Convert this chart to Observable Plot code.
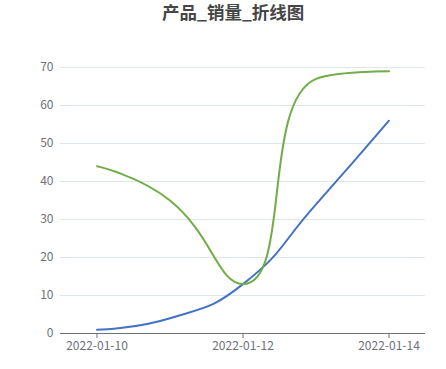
<!DOCTYPE html>
<html>
<head>
<meta charset="utf-8">
<script src="https://cdn.jsdelivr.net/npm/d3@7"></script>
<script src="https://cdn.jsdelivr.net/npm/@observablehq/plot@0.6"></script>
<style>
  html, body { margin: 0; padding: 0; background: #fff; }
  #wrap { width: 446px; height: 369px; position: relative; font-family: "Noto Sans CJK SC", "Noto Sans", sans-serif; }
  #title { height: 30px; line-height: 24px; box-sizing: border-box; text-align: left; padding-left: 162px;
           font-size: 17.5px; font-weight: bold; color: #464646; }
  svg { display: block; }
</style>
</head>
<body>
<div id="wrap">
  <div id="title">产品_销量_折线图</div>
  <div id="chart"></div>
</div>
<script>
const dates = ["2022-01-10", "2022-01-11", "2022-01-12", "2022-01-13", "2022-01-14"];
const seriesBlue = [1, 4, 13, 34, 56];
const seriesGreen = [44, 35, 13, 67, 69];
const yTicks = [0, 10, 20, 30, 40, 50, 60, 70];
const xTickLabels = ["2022-01-10", "2022-01-12", "2022-01-14"];

const parse = d3.utcParse("%Y-%m-%d");
const blueData = dates.map((d, i) => ({date: parse(d), value: seriesBlue[i]}));
const greenData = dates.map((d, i) => ({date: parse(d), value: seriesGreen[i]}));
const half = 12 * 3600 * 1000;
const xDomain = [new Date(parse(dates[0]).getTime() - half), new Date(parse(dates[dates.length - 1]).getTime() + half)];

// Smooth curve in the style of a "smooth: 0.5" line (bezier with clamped control points)
function smoothCurve(context) {
  const smooth = 0.5;
  let pts = [];
  return {
    lineStart() { pts = []; },
    lineEnd() {
      const n = pts.length;
      if (!n) return;
      let prevX, prevY, cpx0, cpy0, cpx1, cpy1, nextCpx0, nextCpy0;
      for (let i = 0; i < n; i++) {
        const [x, y] = pts[i];
        if (i === 0) {
          context.moveTo(x, y);
          cpx0 = x; cpy0 = y;
        } else {
          if (i === n - 1) {
            cpx1 = x; cpy1 = y;
          } else {
            const [nextX, nextY] = pts[i + 1];
            let vx = nextX - prevX, vy = nextY - prevY;
            const dx0 = x - prevX, dx1 = nextX - x, dy0 = y - prevY, dy1 = nextY - y;
            const lenPrev = Math.hypot(dx0, dy0), lenNext = Math.hypot(dx1, dy1);
            const ratio = lenNext / (lenNext + lenPrev);
            nextCpx0 = x + vx * smooth * ratio;
            nextCpy0 = y + vy * smooth * ratio;
            nextCpx0 = Math.min(nextCpx0, Math.max(nextX, x));
            nextCpy0 = Math.min(nextCpy0, Math.max(nextY, y));
            nextCpx0 = Math.max(nextCpx0, Math.min(nextX, x));
            nextCpy0 = Math.max(nextCpy0, Math.min(nextY, y));
            vx = nextCpx0 - x; vy = nextCpy0 - y;
            cpx1 = x - vx * lenPrev / lenNext;
            cpy1 = y - vy * lenPrev / lenNext;
            cpx1 = Math.min(cpx1, Math.max(prevX, x));
            cpy1 = Math.min(cpy1, Math.max(prevY, y));
            cpx1 = Math.max(cpx1, Math.min(prevX, x));
            cpy1 = Math.max(cpy1, Math.min(prevY, y));
            vx = x - cpx1; vy = y - cpy1;
            nextCpx0 = x + vx * lenNext / lenPrev;
            nextCpy0 = y + vy * lenNext / lenPrev;
          }
          context.bezierCurveTo(cpx0, cpy0, cpx1, cpy1, x, y);
          cpx0 = nextCpx0; cpy0 = nextCpy0;
        }
        prevX = x; prevY = y;
      }
    },
    point(x, y) { pts.push([+x, +y]); },
    areaStart() {}, areaEnd() {}
  };
}

const chart = Plot.plot({
  width: 446,
  height: 339,
  marginTop: 37,
  marginBottom: 36,
  marginLeft: 60,
  marginRight: 21,
  style: {fontFamily: "'Noto Sans CJK SC', 'Noto Sans', sans-serif", fontSize: "12px", color: "#6E7079", background: "#fff"},
  x: {type: "utc", domain: xDomain},
  y: {domain: [0, 70]},
  marks: [
    Plot.ruleY(yTicks.slice(1), {stroke: "#E0E6F1", strokeWidth: 1}),
    Plot.axisY({ticks: yTicks, tickSize: 0, tickPadding: 7, fill: "#6E7079", fontSize: 12, label: null}),
    Plot.axisX({ticks: xTickLabels.map(parse), tickFormat: d3.utcFormat("%Y-%m-%d"), tickSize: 5, tickPadding: 3,
                stroke: "#6E7079", fill: "#6E7079", fontSize: 12, label: null}),
    Plot.ruleY([0], {stroke: "#6E7079", strokeWidth: 1}),
    Plot.lineY(blueData, {x: "date", y: "value", stroke: "#4472C4", strokeWidth: 2, curve: smoothCurve}),
    Plot.lineY(greenData, {x: "date", y: "value", stroke: "#70AD47", strokeWidth: 2, curve: smoothCurve})
  ]
});
document.getElementById("chart").appendChild(chart);
</script>
</body>
</html>
